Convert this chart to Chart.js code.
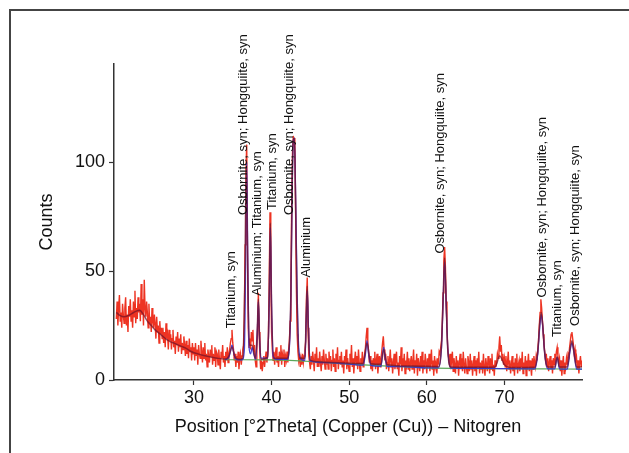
<!DOCTYPE html>
<html>
<head>
<meta charset="utf-8">
<script src="https://cdn.jsdelivr.net/npm/chart.js@4.4.1/dist/chart.umd.min.js"></script>
<style>
  html, body { margin: 0; padding: 0; background: #fff; overflow: hidden; }
  .frame { position: absolute; left: 9px; top: 9px; width: 700px; height: 500px; border: 2px solid #444; }
  canvas { position: absolute; left: 0; top: 0; }
</style>
</head>
<body>
<div class="frame"></div>
<canvas class="js-graph" width="629" height="453"></canvas>
<script>
// raw counts, 2theta from 20.0 to 80.0, step 0.1
const rawStart = 20;
const rawStep = 0.1;
const rawCounts = [
  28, 36, 25, 33, 39, 27, 31, 24, 35, 30,
  26, 33, 38, 25, 30, 22, 34, 29, 37, 27,
  32, 24, 36, 29, 41, 26, 33, 28, 38, 31,
  35, 27, 44, 30, 37, 25, 46, 33, 29, 36,
  31, 24, 35, 26, 29, 22, 33, 27, 24, 30,
  26, 19, 29, 22, 25, 17, 27, 21, 24, 19,
  24, 17, 22, 15, 26, 19, 21, 14, 23, 18,
  21, 14, 19, 23, 15, 18, 12, 20, 16, 22,
  13, 19, 15, 21, 12, 17, 14, 20, 16, 11,
  18, 12, 16, 10, 19, 13, 15, 9, 17, 12,
  15, 9, 17, 11, 14, 7, 16, 12, 10, 18,
  13, 8, 15, 10, 17, 9, 12, 6, 14, 11,
  8, 14, 11, 16, 7, 12, 9, 15, 6, 13,
  12, 7, 14, 9, 5, 13, 10, 16, 8, 11,
  6, 13, 9, 15, 8, 12, 14, 17, 19, 23,
  17, 14, 9, 12, 6, 11, 8, 13, 5, 10,
  12, 7, 11, 14, 16, 28, 62, 96, 108, 58,
  24, 15, 19, 14, 22, 18, 23, 13, 16, 9,
  6, 12, 24, 40, 22, 11, 5, 9, 4, 8,
  11, 6, 10, 13, 8, 12, 20, 45, 77, 50,
  22, 14, 9, 13, 7, 12, 15, 8, 11, 6,
  13, 9, 16, 7, 12, 10, 14, 6, 11, 9,
  13, 8, 14, 18, 27, 46, 82, 104, 112, 109,
  111, 78, 42, 21, 13, 9, 12, 6, 10, 7,
  12, 8, 11, 14, 18, 38, 47, 24, 11, 8,
  5, 11, 7, 13, 9, 4, 12, 8, 15, 6,
  10, 6, 13, 8, 4, 11, 7, 14, 9, 5,
  12, 7, 10, 5, 13, 8, 11, 4, 9, 14,
  6, 10, 4, 12, 8, 15, 5, 9, 11, 7,
  13, 6, 9, 3, 11, 8, 14, 5, 10, 7,
  4, 12, 8, 16, 6, 10, 3, 9, 13, 7,
  11, 5, 14, 8, 4, 10, 7, 13, 6, 9,
  12, 15, 20, 24, 18, 13, 8, 11, 5, 9,
  4, 10, 7, 13, 5, 9, 12, 3, 8, 11,
  6, 10, 13, 17, 20, 14, 9, 12, 5, 8,
  11, 4, 9, 14, 6, 10, 3, 8, 12, 5,
  9, 13, 5, 8, 2, 11, 7, 15, 4, 10,
  6, 12, 3, 9, 7, 13, 5, 10, 4, 8,
  11, 5, 8, 14, 3, 9, 6, 12, 2, 10,
  7, 4, 11, 6, 13, 3, 9, 5, 12, 8,
  3, 10, 6, 12, 4, 8, 14, 5, 9, 2,
  11, 6, 8, 3, 10, 7, 13, 12, 15, 18,
  26, 40, 55, 61, 52, 36, 24, 15, 11, 8,
  12, 5, 9, 13, 4, 10, 7, 3, 11, 6,
  9, 2, 8, 12, 5, 10, 4, 13, 7, 3,
  10, 6, 3, 11, 8, 4, 12, 5, 9, 2,
  7, 11, 4, 9, 2, 10, 6, 13, 3, 8,
  5, 9, 3, 12, 6, 2, 10, 7, 4, 11,
  8, 3, 10, 5, 12, 4, 7, 2, 9, 6,
  8, 12, 10, 15, 20, 13, 16, 9, 12, 7,
  10, 6, 11, 4, 8, 13, 5, 9, 3, 7,
  11, 4, 8, 2, 10, 6, 12, 3, 7, 9,
  4, 10, 6, 13, 3, 8, 5, 11, 2, 9,
  7, 12, 4, 9, 6, 2, 10, 5, 11, 8,
  6, 11, 9, 14, 18, 25, 31, 37, 33, 27,
  21, 16, 13, 9, 12, 6, 10, 4, 8, 11,
  5, 9, 3, 10, 7, 12, 9, 13, 15, 11,
  8, 10, 4, 9, 2, 7, 11, 3, 8, 6,
  10, 7, 12, 11, 15, 18, 21, 22, 19, 16,
  12, 14, 8, 10, 5, 9, 3, 8, 11, 6,
  9
];

// smoothed counts (dark line)
const smoothX = [20, 20.5, 21, 21.5, 22, 22.5, 23, 23.5, 24, 24.5, 25, 25.5, 26, 26.5, 27, 27.5, 28, 28.5, 29, 29.5, 30, 31, 32, 33, 34,
  34.5, 34.9, 35.3, 35.8, 36.3, 36.55, 36.75, 36.95, 37.15, 37.5, 37.9, 38.15, 38.3, 38.45, 38.7, 39.5, 39.7, 39.85, 40.0, 40.3,
  42.0, 42.3, 42.5, 42.65, 42.8, 42.95, 43.1, 43.3, 43.6, 44.3, 44.45, 44.6, 44.75, 45.0, 47, 50, 51.8, 52.3, 52.8, 54.1, 54.45, 54.9,
  58, 61.5, 61.9, 62.1, 62.3, 62.5, 62.7, 63.1, 66, 68.8, 69.4, 70.0, 71, 73.9, 74.3, 74.55, 74.75, 74.95, 75.2, 75.6,
  76.5, 76.8, 77.1, 78.1, 78.45, 78.7, 78.95, 79.3, 80];
const smoothY = [31, 29.5, 29, 29.5, 30.5, 31.5, 32, 30, 27, 25, 23, 21.5, 20, 18.5, 17.5, 16.8, 16, 15.3, 14.5, 13.3, 12.5, 11.5, 10.7, 10, 9.6,
  11, 15, 10.5, 9.5, 10, 45, 98, 45, 16, 16, 10, 22, 37, 20, 9.5, 10.5, 40, 72, 35, 10,
  10, 17, 42, 88, 110, 111, 80, 35, 10, 10, 28, 43, 22, 9, 8.2, 7.7, 7.6, 17, 7.5, 7.2, 14, 7,
  6.4, 6.2, 16, 37, 56, 35, 14, 6, 5.8, 6, 11, 7, 5.7, 5.8, 13, 26, 31, 25, 12, 6,
  6, 10.5, 6, 6, 14, 18, 13, 6, 6];

// fitted profile (blue)
const fitX = [34.0, 34.5, 34.7, 34.9, 35.1, 35.3, 35.6, 36.2, 36.5, 36.65, 36.8, 36.95, 37.1, 37.3, 37.5, 37.7, 37.95,
  38.15, 38.3, 38.45, 38.6, 39.5, 39.7, 39.85, 40.0, 40.2, 40.6, 42.0, 42.3, 42.5, 42.65, 42.8, 42.95, 43.1, 43.3, 43.5, 43.8,
  44.3, 44.45, 44.6, 44.75, 44.95, 47, 50, 51.8, 52.1, 52.3, 52.5, 52.8, 54.1, 54.3, 54.45, 54.6, 54.9, 57, 60,
  61.5, 61.9, 62.1, 62.3, 62.5, 62.7, 63.1, 66, 70, 73.9, 74.3, 74.55, 74.75, 74.95, 75.2, 75.6,
  76.5, 76.8, 77.1, 78.1, 78.45, 78.7, 78.95, 79.3, 80];
const fitY = [9.3, 10.5, 13, 16, 13, 10.2, 9.3, 9.3, 14, 50, 100, 50, 15, 12, 15, 12, 9.5,
  20, 36, 20, 10, 10, 35, 70, 35, 11, 9.5, 9.5, 15, 40, 85, 110, 111, 85, 40, 15, 9.5,
  9, 25, 41, 25, 8.8, 8, 7.3, 6.8, 12, 18, 12, 6.7, 6.3, 12, 15, 11, 6.2, 6.1, 5.6,
  5.6, 15, 35, 54, 35, 15, 5.5, 5.4, 5.2, 5.1, 12, 24, 30, 24, 12, 5.1,
  5.1, 10.5, 5.1, 5.0, 13, 17, 13, 5.0, 5.0];

// background
const bgX = [33.9, 40, 45, 50, 55, 60, 65, 70, 75, 80];
const bgY = [9.3, 9.2, 8.5, 7.3, 6.4, 5.6, 5.3, 5.2, 5.1, 5.0];

// phase labels
const peakLabels = ["Titanium, syn", "Osbornite, syn; Hongquiite, syn", "Aluminium; Titanium, syn", "Titanium, syn",
  "Osbornite, syn; Hongquiite, syn", "Aluminium", "Osbornite, syn; Hongquiite, syn", "Osbornite, syn; Hongquiite, syn",
  "Titanium, syn", "Osbornite, syn; Hongquiite, syn"];
const peakLabelX = [34.8, 36.4, 38.2, 40.1, 42.3, 44.5, 61.7, 74.9, 76.8, 79.2];
const peakLabelY = [23.8, 75.7, 38.5, 78, 75.7, 47, 58, 37.8, 19.7, 24.8];

const xTicks = [30, 40, 50, 60, 70];
const yTicks = [0, 50, 100];

const to_points = (xs, ys) => xs.map((x, i) => ({ x: x, y: ys[i] }));

const raw_points = rawCounts.map((c, i) => ({ x: +(rawStart + i * rawStep).toFixed(2), y: c }));

const label_plugin = {
    id: "peakLabels",
    afterDatasetsDraw(chart) {
        const ctx = chart.ctx;
        const xs = chart.scales.x;
        const ys = chart.scales.y;
        ctx.save();
        ctx.fillStyle = "#111";
        ctx.font = "13px 'Liberation Sans', Arial, sans-serif";
        ctx.textAlign = "left";
        ctx.textBaseline = "middle";
        peakLabels.forEach((txt, i) => {
            ctx.save();
            ctx.translate(xs.getPixelForValue(peakLabelX[i]), ys.getPixelForValue(peakLabelY[i]));
            ctx.rotate(-Math.PI / 2);
            ctx.fillText(txt, 0, 0);
            ctx.restore();
        });
        ctx.restore();
    }
};

const font = { family: "'Liberation Sans', Arial, sans-serif", size: 18 };

const ctx = document.querySelector(".js-graph").getContext("2d");
const chart = new Chart(ctx, {
    type: "line",
    data: {
        datasets: [
            {
                label: "raw",
                data: raw_points,
                borderColor: "rgba(236, 40, 22, 0.95)",
                borderWidth: 1.4,
                pointRadius: 0,
                order: 4
            },
            {
                label: "background",
                data: to_points(bgX, bgY),
                borderColor: "#5aa85a",
                borderWidth: 1.2,
                pointRadius: 0,
                tension: 0.3,
                order: 3
            },
            {
                label: "fit",
                data: to_points(fitX, fitY),
                borderColor: "rgba(50, 50, 210, 0.9)",
                borderWidth: 1.3,
                pointRadius: 0,
                cubicInterpolationMode: "monotone",
                order: 2
            },
            {
                label: "smooth",
                data: to_points(smoothX, smoothY),
                borderColor: "rgba(120, 20, 40, 0.75)",
                borderWidth: 1.5,
                pointRadius: 0,
                cubicInterpolationMode: "monotone",
                order: 1
            }
        ]
    },
    options: {
        responsive: false,
        animation: false,
        devicePixelRatio: 1,
        layout: { padding: { left: 0, top: 64, right: 47, bottom: 0 } },
        plugins: {
            legend: { display: false },
            tooltip: { enabled: false }
        },
        scales: {
            x: {
                type: "linear",
                min: 19.7,
                max: 80,
                afterFit: (s) => { s.height = 73; },
                afterBuildTicks: (s) => { s.ticks = xTicks.map((v) => ({ value: v })); },
                ticks: { color: "#111", font: font, padding: 2, maxRotation: 0 },
                grid: { drawOnChartArea: false, tickLength: 5, tickColor: "#333", tickWidth: 1.2 },
                border: { color: "#333", width: 1.5 },
                title: {
                    display: true,
                    text: "Position [°2Theta] (Copper (Cu)) – Nitogren",
                    color: "#111",
                    font: font,
                    padding: { top: 0, bottom: 15 }
                }
            },
            y: {
                min: 0,
                max: 145,
                afterFit: (s) => { s.width = 114; },
                afterBuildTicks: (s) => { s.ticks = yTicks.map((v) => ({ value: v })); },
                ticks: { color: "#111", font: font, padding: 4 },
                grid: { drawOnChartArea: false, tickLength: 5, tickColor: "#333", tickWidth: 1.2 },
                border: { color: "#333", width: 1.5 },
                title: {
                    display: true,
                    text: "Counts",
                    color: "#111",
                    font: font,
                    padding: { top: 36, bottom: 0 }
                }
            }
        }
    },
    plugins: [label_plugin]
});
</script>
</body>
</html>
